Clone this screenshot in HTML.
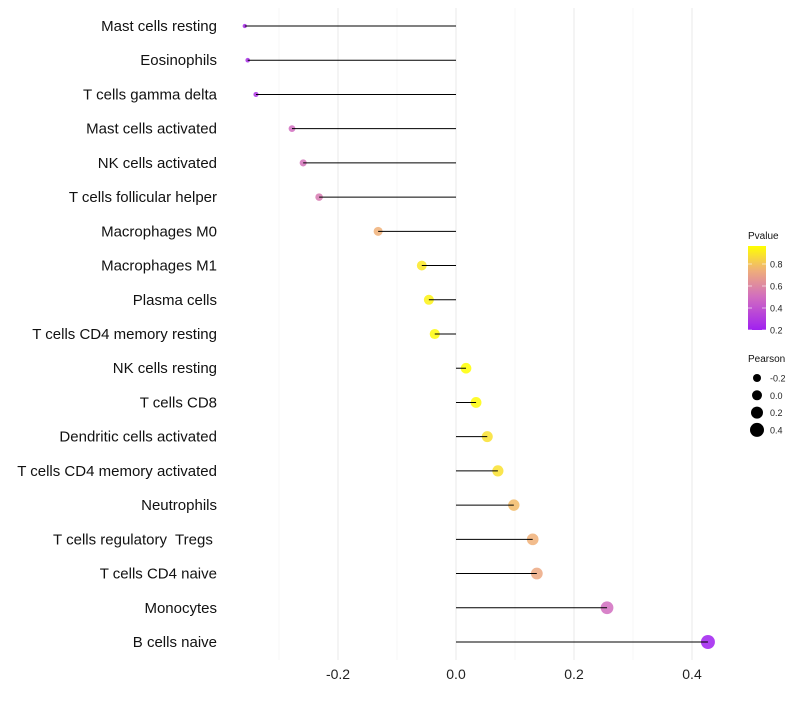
<!DOCTYPE html>
<html><head><meta charset="utf-8"><style>
body{margin:0;background:#fff;font-family:"Liberation Sans",sans-serif}
</style></head><body>
<svg id="c" width="800" height="700" xmlns="http://www.w3.org/2000/svg" font-family="Liberation Sans, sans-serif"></svg>
<script>
const categories=["Mast cells resting","Eosinophils","T cells gamma delta","Mast cells activated","NK cells activated","T cells follicular helper","Macrophages M0","Macrophages M1","Plasma cells","T cells CD4 memory resting","NK cells resting","T cells CD8","Dendritic cells activated","T cells CD4 memory activated","Neutrophils","T cells regulatory  Tregs ","T cells CD4 naive","Monocytes","B cells naive"];
const pearson=[-0.358,-0.353,-0.339,-0.278,-0.259,-0.232,-0.132,-0.058,-0.046,-0.036,0.017,0.034,0.053,0.071,0.098,0.130,0.137,0.256,0.427];
const pvalue=[0.24,0.25,0.28,0.5,0.52,0.55,0.75,0.9,0.93,0.95,0.98,0.95,0.88,0.88,0.78,0.75,0.72,0.5,0.2];
const xTicks=[-0.2,0,0.2,0.4];
const xMinor=[-0.3,-0.1,0.1,0.3];
const colorTicks=[0.2,0.4,0.6,0.8];
const sizeLegend=[-0.2,0,0.2,0.4];

const svg=document.getElementById('c');const NS="http://www.w3.org/2000/svg";
function mk(t,a,p){const e=document.createElementNS(NS,t);for(const k in a)e.setAttribute(k,a[k]);(p||svg).appendChild(e);return e;}
const x=v=>456+v*590;
const y=i=>26+i*(642-26)/(categories.length-1);
const rad=v=>1.5+5.5*Math.sqrt(Math.max(0,(v+0.37)/0.8));
const stops=[[0,[160,32,240]],[0.4,[210,110,190]],[0.72,[240,176,120]],[1,[255,255,0]]];
function col(p){let t=Math.max(0,Math.min(1,(p-0.2)/(0.964-0.2)));for(let i=1;i<stops.length;i++){if(t<=stops[i][0]){const a=stops[i-1],b=stops[i];const f=(t-a[0])/(b[0]-a[0]);const c=a[1].map((v,j)=>Math.round(v+(b[1][j]-v)*f));return `rgb(${c})`;}}return 'rgb(255,255,0)';}
const PT=8,PB=660;
xMinor.forEach(v=>{const l=mk('line',{x1:x(v),x2:x(v),y1:PT,y2:PB,stroke:'#f7f7f7','stroke-width':1});
});
xTicks.forEach(v=>{const l=mk('line',{x1:x(v),x2:x(v),y1:PT,y2:PB,stroke:'#f0f0f0','stroke-width':1.5});

const t=mk('text',{x:x(v),y:679,'text-anchor':'middle','font-size':14,fill:'#222'});t.textContent=v===0?'0.0':v.toFixed(1);
});
categories.forEach((c,i)=>{
const t=mk('text',{x:217,y:y(i)+5,'text-anchor':'end','font-size':15,fill:'#111','xml:space':'preserve'});t.style.whiteSpace='pre';t.textContent=c;

const d=mk('circle',{cx:x(pearson[i]),cy:y(i),r:rad(pearson[i]),fill:col(pvalue[i]),'fill-opacity':0.85});

const l=mk('line',{x1:x(0),x2:x(pearson[i]),y1:y(i),y2:y(i),stroke:'#000','stroke-width':1});

});
const lg=mk('g',{});
const tt=mk('text',{x:748,y:239,'font-size':10,fill:'#111'},lg);tt.textContent='Pvalue';
const defs=mk('defs',{});const gr=mk('linearGradient',{id:'g',x1:0,y1:1,x2:0,y2:0},defs);
for(let k=0;k<=10;k++){const p=0.2+k/10*(0.964-0.2);mk('stop',{offset:k/10,'stop-color':col(p)},gr);}
const bar=mk('rect',{x:748,y:246,width:18,height:84,fill:'url(#g)'},lg);
colorTicks.forEach(v=>{const yy=330-(v-0.2)/0.2*22;mk('line',{x1:748,x2:752,y1:yy,y2:yy,stroke:'#fff','stroke-opacity':0.6},lg);mk('line',{x1:762,x2:766,y1:yy,y2:yy,stroke:'#fff','stroke-opacity':0.6},lg);
const t=mk('text',{x:770,y:yy+3.5,'font-size':9,fill:'#222'},lg);t.textContent=v.toFixed(1);});
const sg=mk('g',{});
const st=mk('text',{x:748,y:362,'font-size':10,fill:'#111'},sg);st.textContent='Pearson';
sizeLegend.forEach((v,k)=>{const yy=378+k*17.3;mk('circle',{cx:757,cy:yy,r:[4,5,6,7][k],fill:'#000'},sg);
const t=mk('text',{x:770,y:yy+3.5,'font-size':9,fill:'#222'},sg);t.textContent=v===0?'0.0':v.toFixed(1);});
</script>
</body></html>
